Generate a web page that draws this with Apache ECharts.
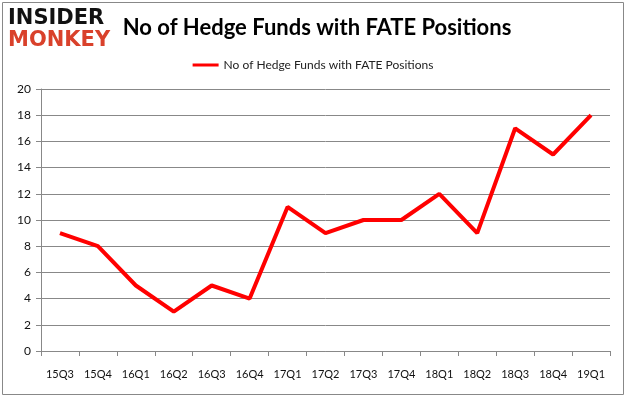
<!DOCTYPE html>
<html>
<head>
<meta charset="utf-8">
<script src="https://cdn.jsdelivr.net/npm/echarts@6/dist/echarts.min.js"></script>
<style>
  html, body { margin: 0; padding: 0; background: #fff; }
  #main { width: 626px; height: 397px; }
</style>
</head>
<body>
<div id="main"></div>
<script>
const quarters = ['15Q3', '15Q4', '16Q1', '16Q2', '16Q3', '16Q4', '17Q1', '17Q2', '17Q3', '17Q4', '18Q1', '18Q2', '18Q3', '18Q4', '19Q1']
const fundCounts = [9, 8, 5, 3, 5, 4, 11, 9, 10, 10, 12, 9, 17, 15, 18]
const seriesName = 'No of Hedge Funds with FATE Positions'

const chart = echarts.init(document.getElementById('main'))

chart.setOption({
  animation: false,
  graphic: [
    // outer frame
    {
      type: 'rect',
      shape: { x: 2.5, y: 2.5, width: 621, height: 392 },
      style: { fill: 'none', stroke: '#888', lineWidth: 1 },
    },
    {
      type: 'text',
      left: 8,
      top: 8,
      style: { text: 'INSIDER', font: 'bold 21px "DejaVu Sans"', fill: '#111' },
    },
    {
      type: 'text',
      left: 8,
      top: 30,
      style: { text: 'MONKEY', font: 'bold 21px "DejaVu Sans"', fill: '#d9412b' },
    },
  ],
  title: {
    text: 'No of Hedge Funds with FATE Positions',
    left: 312,
    textAlign: 'center',
    top: 12,
    textStyle: { fontFamily: 'Lato', fontSize: 22, fontWeight: 'bold', color: '#000' },
  },
  legend: {
    top: 54,
    left: 'center',
    itemWidth: 26,
    itemHeight: 3,
    icon: 'rect',
    textStyle: { fontFamily: 'Lato', fontSize: 12, color: '#222' },
    data: [seriesName],
  },
  grid: {
    left: 41,
    right: 16,
    top: 89,
    bottom: 46,
  },
  xAxis: {
    type: 'category',
    data: quarters,
    boundaryGap: true,
    axisLine: { lineStyle: { color: '#888' } },
    axisTick: { show: true, alignWithLabel: false, length: 5, lineStyle: { color: '#888' } },
    axisLabel: { color: '#111', fontFamily: 'Lato', fontSize: 11, margin: 18, interval: 0 },
  },
  yAxis: {
    type: 'value',
    min: 0,
    max: 20,
    interval: 2,
    axisLine: { show: true, lineStyle: { color: '#888' } },
    axisTick: { show: true, length: 5, lineStyle: { color: '#888' } },
    axisLabel: { color: '#111', fontFamily: 'Lato', fontSize: 12, margin: 10 },
    splitLine: { lineStyle: { color: '#888' } },
  },
  series: [
    {
      name: seriesName,
      type: 'line',
      data: fundCounts,
      showSymbol: false,
      symbol: 'none',
      lineStyle: { color: '#ff0000', width: 4 },
      itemStyle: { color: '#ff0000' },
    },
  ],
})
</script>
</body>
</html>
